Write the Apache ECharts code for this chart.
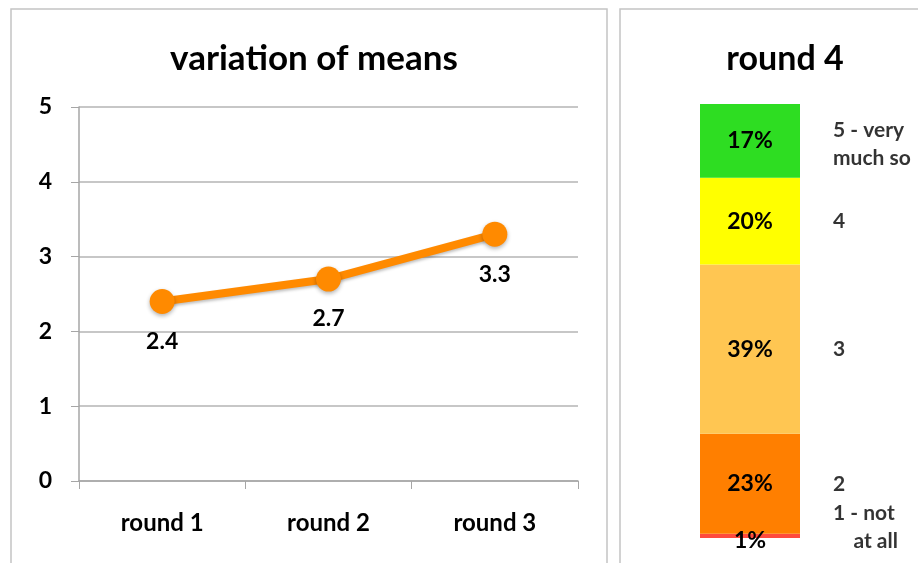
<!DOCTYPE html>
<html>
<head>
<meta charset="utf-8">
<script src="https://cdn.jsdelivr.net/npm/echarts@6/dist/echarts.min.js"></script>
<style>
  html, body { margin: 0; padding: 0; background: #fff; }
  #chart { width: 918px; height: 563px; }
</style>
</head>
<body>
<div id="chart"></div>
<script>
var myChart = echarts.init(document.getElementById('chart'));

// left panel: mean per round
var rounds = ['round 1', 'round 2', 'round 3'];
var means = [2.4, 2.7, 3.3];

// right panel: answer shares in round 4, bottom to top
var levels = ['1 - not\n    at all', '2', '3', '4', '5 - very\nmuch so'];
var shares = [1, 23, 39, 20, 17];
var levelColors = ['#FF4A3D', '#FF7F00', '#FFC652', '#FFFF00', '#2EDD22'];

var fontFamily = 'Lato, "Open Sans", sans-serif';
var textColor = '#000';
var lineColor = '#FF8A00';
var borderColor = '#c4c4c4';

// middle of every segment, for the labels on the right
var mids = [];
var acc = 0;
for (var i = 0; i < shares.length; ++i) {
    mids.push([0, acc + shares[i] / 2]);
    acc += shares[i];
}

var barSeries = shares.map(function (v, i) {
    return {
        type: 'bar',
        stack: 'r4',
        xAxisIndex: 1,
        yAxisIndex: 1,
        barWidth: 100,
        data: [v],
        itemStyle: { color: levelColors[i] },
        label: {
            show: true,
            position: 'inside',
            offset: i === 0 ? [0, 5] : [0, 0],
            formatter: '{c}%',
            color: textColor,
            fontFamily: fontFamily,
            fontWeight: 'bold',
            fontSize: 23
        },
        silent: true
    };
});

option = {
    backgroundColor: '#fff',
    animation: false,
    graphic: [
        {
            type: 'rect',
            shape: { x: 11, y: 9, width: 596, height: 570 },
            style: { fill: 'none', stroke: borderColor, lineWidth: 1.5 }
        },
        {
            type: 'rect',
            shape: { x: 620, y: 9, width: 320, height: 570 },
            style: { fill: 'none', stroke: borderColor, lineWidth: 1.5 }
        }
    ],
    title: [
        {
            text: 'variation of means',
            left: 309,
            top: 36,
            textAlign: 'center',
            textStyle: { fontFamily: fontFamily, fontWeight: 'bold', fontSize: 35, color: textColor }
        },
        {
            text: 'round 4',
            left: 780,
            top: 37,
            textAlign: 'center',
            textStyle: { fontFamily: fontFamily, fontWeight: 'bold', fontSize: 34, color: textColor }
        }
    ],
    grid: [
        { left: 79, right: 340, top: 107, bottom: 82 },
        { left: 700, width: 100, top: 104, bottom: 25 }
    ],
    xAxis: [
        {
            type: 'category',
            gridIndex: 0,
            data: rounds,
            boundaryGap: true,
            axisLine: { lineStyle: { color: '#a6a6a6', width: 1.5 } },
            axisTick: { show: true, length: 8, lineStyle: { color: '#a6a6a6' } },
            axisLabel: {
                margin: 30,
                color: textColor,
                fontFamily: fontFamily,
                fontWeight: 'bold',
                fontSize: 24
            }
        },
        {
            type: 'category',
            gridIndex: 1,
            data: ['round 4'],
            show: false
        }
    ],
    yAxis: [
        {
            type: 'value',
            gridIndex: 0,
            min: 0,
            max: 5,
            interval: 1,
            axisLine: { show: true, lineStyle: { color: '#a6a6a6', width: 1.5 } },
            axisTick: { show: true, length: 8, lineStyle: { color: '#a6a6a6' } },
            splitLine: { lineStyle: { color: '#b4b4b4', width: 1.5 } },
            axisLabel: {
                margin: 27,
                color: textColor,
                fontFamily: fontFamily,
                fontWeight: 'bold',
                fontSize: 23
            }
        },
        {
            type: 'value',
            gridIndex: 1,
            min: 0,
            max: 100,
            show: false
        }
    ],
    series: [
        {
            type: 'line',
            data: means,
            symbol: 'circle',
            symbolSize: 25,
            lineStyle: {
                color: lineColor,
                width: 8,
                shadowBlur: 3,
                shadowColor: 'rgba(0,0,0,0.25)',
                shadowOffsetY: 2
            },
            itemStyle: {
                color: lineColor,
                shadowBlur: 4,
                shadowColor: 'rgba(0,0,0,0.3)',
                shadowOffsetY: 2
            },
            label: {
                show: true,
                position: 'bottom',
                distance: 16,
                color: textColor,
                fontFamily: fontFamily,
                fontWeight: 'bold',
                fontSize: 23
            }
        }
    ].concat(barSeries).concat([
        {
            type: 'scatter',
            xAxisIndex: 1,
            yAxisIndex: 1,
            symbolSize: 0,
            data: mids.map(function (m, i) {
                return {
                    value: m,
                    label: { offset: i === 0 ? [0, -9] : (i === 4 ? [0, 3] : [0, 0]) }
                };
            }),
            label: {
                show: true,
                position: 'right',
                distance: 83,
                align: 'left',
                lineHeight: 28,
                color: textColor,
                fontFamily: fontFamily,
                fontWeight: 'bold',
                fontSize: 21,
                formatter: function (p) {
                    return levels[p.dataIndex];
                }
            },
            silent: true
        }
    ])
};
myChart.setOption(option);
</script>
</body>
</html>
